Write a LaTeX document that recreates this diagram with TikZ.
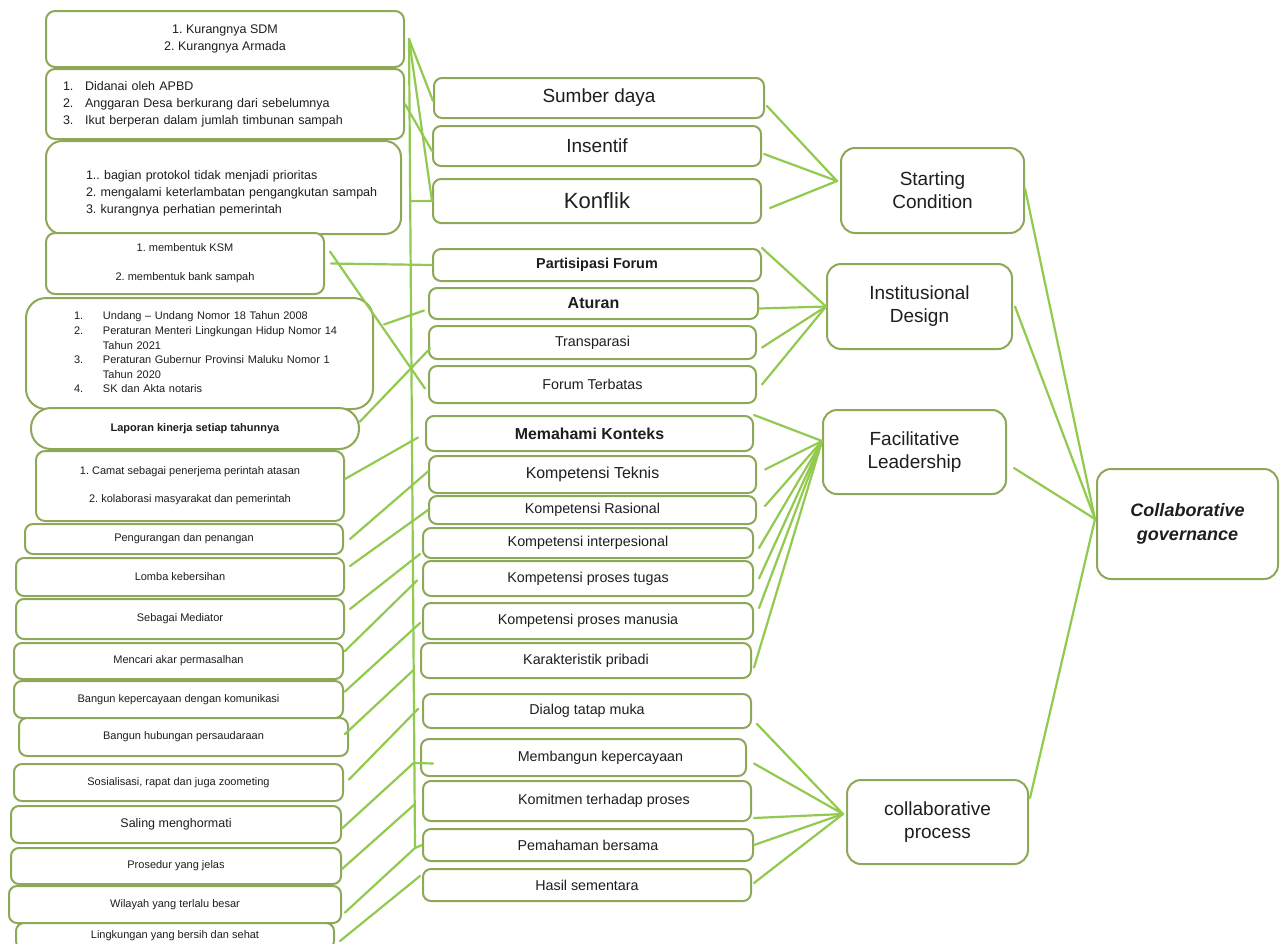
\documentclass[tikz,border=0pt]{standalone}
\usepackage{fontspec}
\setmainfont{Liberation Sans}
\usetikzlibrary{calc}
\frenchspacing
\definecolor{boxc}{RGB}{140,168,88}
\definecolor{linec}{RGB}{146,202,80}
\definecolor{txt}{RGB}{30,30,30}
\tikzset{
  bx/.style={draw=boxc, line width=2pt, fill=white, rounded corners=#1, anchor=north west,
             inner sep=0pt, align=center, text=txt},
  bx/.default=8pt,
  ln/.style={draw=linec, line width=2.2pt, line cap=round},
  fa/.style={font=\fontsize{11}{14.5}\selectfont},
  fb/.style={font=\fontsize{12.5}{17}\selectfont},
  fm/.style={font=\fontsize{14.3}{17}\selectfont},
  fmb/.style={font=\fontsize{14.4}{17}\selectfont\bfseries},
  fr/.style={font=\fontsize{19}{23}\selectfont},
}
\begin{document}
\begin{tikzpicture}[x=1pt,y=-1pt]
\clip (0,0) rectangle (1282,943);
\fill[white] (0,0) rectangle (1282,943);

% ---------- left column ----------
\node[bx=9pt, fb, minimum width=358pt, minimum height=56pt] (l1) at (45,10) {1. Kurangnya SDM\\2. Kurangnya Armada};
\node[bx=9pt, fb, minimum width=358pt, minimum height=70pt, align=left, inner xsep=17pt, text width=324pt] (l2) at (45,68)
  {\begin{tabular}{@{}l@{\hspace{11.6pt}}l@{}}1.&Didanai oleh APBD\\2.&Anggaran Desa berkurang dari sebelumnya\\3.&Ikut berperan dalam jumlah timbunan sampah\end{tabular}};
\node[bx=16pt, fb, minimum width=355pt, minimum height=93pt, align=left, inner xsep=20pt, text width=315pt] (l3) at (45,140)
  {\begin{tabular}{@{\hspace{20pt}}l@{}}\\[-6pt]1.. bagian protokol tidak menjadi prioritas\\2. mengalami keterlambatan pengangkutan sampah\\3. kurangnya perhatian pemerintah\end{tabular}};
\node[bx=9pt, fa, minimum width=278pt, minimum height=61pt] (l4) at (45,232) {1. membentuk KSM\\[14.5pt]2. membentuk bank sampah};
\node[bx=20pt, font=\fontsize{11}{14.6}\selectfont, minimum width=347pt, minimum height=111pt, align=left, inner xsep=48pt, text width=251pt] (l5) at (25,297)
  {\begin{tabular}{@{}l@{\hspace{19.8pt}}l@{}}1.&Undang -- Undang Nomor 18 Tahun 2008\\2.&Peraturan Menteri Lingkungan Hidup Nomor 14\\&Tahun 2021\\3.&Peraturan Gubernur Provinsi Maluku Nomor 1\\&Tahun 2020\\4.&SK dan Akta notaris\end{tabular}};
\node[bx=20pt, font=\fontsize{11}{14}\selectfont\bfseries, minimum width=328pt, minimum height=41pt] (l6) at (30,407) {Laporan kinerja setiap tahunnya};
\node[bx=9pt, fa, minimum width=308pt, minimum height=70pt] (l7) at (35,450) {1. Camat sebagai penerjema perintah atasan\\[13.5pt]2. kolaborasi masyarakat dan pemerintah};
\node[bx=8pt, fa, minimum width=318pt, minimum height=30pt] (l8) at (24,523) {Pengurangan dan penangan};
\node[bx=8pt, fa, minimum width=328pt, minimum height=38pt] (l9) at (15,557) {Lomba kebersihan};
\node[bx=8pt, fa, minimum width=328pt, minimum height=40pt] (l10) at (15,598) {Sebagai Mediator};
\node[bx=8pt, fa, minimum width=329pt, minimum height=36pt] (l11) at (13,642) {Mencari akar permasalhan};
\node[bx=8pt, fa, minimum width=329pt, minimum height=37pt] (l12) at (13,680) {Bangun kepercayaan dengan komunikasi};
\node[bx=8pt, fa, minimum width=329pt, minimum height=38pt] (l13) at (18,717) {Bangun hubungan persaudaraan};
\node[bx=8pt, fa, minimum width=329pt, minimum height=37pt] (l14) at (13,763) {Sosialisasi, rapat dan juga zoometing};
\node[bx=8pt, fb, minimum width=330pt, minimum height=37pt] (l15) at (10,805) {Saling menghormati};
\node[bx=8pt, fa, minimum width=330pt, minimum height=36pt] (l16) at (10,847) {Prosedur yang jelas};
\node[bx=8pt, fa, minimum width=332pt, minimum height=37pt] (l17) at (8,885) {Wilayah yang terlalu besar};
\node[bx=8pt, fa, minimum width=318pt, minimum height=26pt] (l18) at (15,922) {Lingkungan yang bersih dan sehat};

% ---------- middle column ----------
\node[bx, fr, minimum width=330pt, minimum height=40pt] (m1) at (433,77) {Sumber daya};
\node[bx, fr, minimum width=328pt, minimum height=40pt] (m2) at (432,125) {Insentif};
\node[bx, font=\fontsize{22}{26}\selectfont, minimum width=328pt, minimum height=44pt] (m3) at (432,178) {Konflik};
\node[bx, fmb, minimum width=328pt, minimum height=32pt] (m4) at (432,248) {Partisipasi Forum};
\node[bx, font=\fontsize{16}{19}\selectfont\bfseries, minimum width=329pt, minimum height=31pt] (m5) at (428,287) {Aturan};
\node[bx, fm, minimum width=327pt, minimum height=33pt] (m6) at (428,325) {Transparasi};
\node[bx, fm, minimum width=327pt, minimum height=37pt] (m7) at (428,365) {Forum Terbatas};
\node[bx, font=\fontsize{15.9}{19}\selectfont\bfseries, minimum width=327pt, minimum height=35pt] (m8) at (425,415) {Memahami Konteks};
\node[bx, font=\fontsize{15.9}{19}\selectfont, minimum width=327pt, minimum height=37pt] (m9) at (428,455) {Kompetensi Teknis};
\node[bx, fm, minimum width=327pt, minimum height=28pt] (m10) at (428,495) {Kompetensi Rasional};
\node[bx, fm, minimum width=330pt, minimum height=30pt] (m11) at (422,527) {Kompetensi interpesional};
\node[bx, fm, minimum width=330pt, minimum height=35pt] (m12) at (422,560) {Kompetensi proses tugas};
\node[bx, fm, minimum width=330pt, minimum height=36pt] (m13) at (422,602) {Kompetensi proses manusia};
\node[bx, fm, minimum width=330pt, minimum height=35pt] (m14) at (420,642) {Karakteristik pribadi};
\node[bx, fm, minimum width=328pt, minimum height=34pt] (m15) at (422,693) {Dialog tatap muka};
\node[bx, fm, minimum width=325pt, minimum height=37pt] (m16) at (420,738) {\hspace*{34pt}Membangun kepercayaan};
\node[bx, fm, minimum width=328pt, minimum height=40pt] (m17) at (422,780) {\hspace*{34pt}Komitmen terhadap proses};
\node[bx, fm, minimum width=330pt, minimum height=32pt] (m18) at (422,828) {Pemahaman bersama};
\node[bx, fm, minimum width=328pt, minimum height=32pt] (m19) at (422,868) {Hasil sementara};

% ---------- right columns ----------
\node[bx=14pt, fr, minimum width=183pt, minimum height=85pt] (sc) at (840,147) {Starting\\Condition};
\node[bx=14pt, fr, minimum width=185pt, minimum height=85pt] (id) at (826,263) {Institusional\\Design};
\node[bx=14pt, fr, minimum width=183pt, minimum height=84pt] (fl) at (822,409) {Facilitative\\Leadership};
\node[bx=14pt, font=\fontsize{18}{24}\selectfont\bfseries\itshape, minimum width=181pt, minimum height=110pt] (cg) at (1096,468) {Collaborative\\governance};
\node[bx=14pt, fr, minimum width=181pt, minimum height=84pt] (cp) at (846,779) {collaborative\\process};

% ---------- left-to-middle connectors ----------
\coordinate (vtop) at ([xshift=4pt]l1.east);
\coordinate (vbot) at (415,848);
\coordinate (vj) at (413.6,763);
\draw[ln] (vtop) -- (vbot);
\draw[ln] (vtop) -- ([yshift=-3pt]m1.west);
\draw[ln] (vtop) -- (m3.west);
\draw[ln] (l2.east) -- ([yshift=-5pt]m2.west);
\draw[ln] ($(vtop)!(m3.west)!(vbot)$) -- (m3.west);
\draw[ln] ([xshift=6pt]l4.east) -- (m4.west);
\draw[ln] ([xshift=5pt,yshift=12pt]l4.east) -- ([xshift=-3pt,yshift=-4pt]m7.west);
\draw[ln] ([xshift=10pt,yshift=29pt]l5.east) -- ([xshift=-4pt,yshift=-7pt]m5.west);
\draw[ln] ([yshift=7pt]l6.east) -- ([xshift=2pt,yshift=-6pt]m6.west);
\draw[ln] ([yshift=7pt]l7.east) -- ([xshift=-7pt,yshift=-4pt]m8.west);
\draw[ln] ([xshift=6pt]l8.east) -- ([yshift=3pt]m9.west);
\draw[ln] ([xshift=5pt,yshift=11pt]l9.east) -- (m10.west);
\draw[ln] ([xshift=5pt,yshift=10pt]l10.east) -- ([xshift=-2pt,yshift=-11pt]m11.west);
\draw[ln] ([xshift=1pt,yshift=10pt]l11.east) -- ([xshift=-5pt,yshift=-2pt]m12.west);
\draw[ln] ([xshift=1pt,yshift=8pt]l12.east) -- ([xshift=-2pt,yshift=-2pt]m13.west);
\draw[ln] ([xshift=-4pt,yshift=3pt]l13.east) -- ([xshift=-7pt,yshift=-10pt]m14.west);
\draw[ln] ([xshift=5pt,yshift=3pt]l14.east) -- ([xshift=-4pt,yshift=2pt]m15.west);
\draw[ln] ([yshift=-4pt]l15.east) -- (vj);
\draw[ln] (vj) -- ([xshift=13pt,yshift=-6pt]m16.west);
\draw[ln] ([yshift=-3pt]l16.east) -- ([xshift=-7pt,yshift=-3pt]m17.west);
\draw[ln] ([xshift=3pt,yshift=-8pt]l17.east) -- (vbot);
\draw[ln] (vbot) -- (m18.west);
\draw[ln] ([xshift=5pt,yshift=-5pt]l18.east) -- ([xshift=-2pt,yshift=9pt]m19.west);

% ---------- middle-to-right connectors ----------
\coordinate (scin) at ([xshift=-3pt,yshift=9.5pt]sc.west);
\draw[ln] ([xshift=2pt,yshift=-8pt]m1.east) -- (scin);
\draw[ln] ([xshift=2pt,yshift=-8pt]m2.east) -- (scin);
\draw[ln] ([xshift=8pt,yshift=-7pt]m3.east) -- (scin);
\draw[ln] (m4.north east) -- (id.west);
\draw[ln] ([yshift=-5pt]m5.east) -- (id.west);
\draw[ln] ([xshift=5pt,yshift=-5pt]m6.east) -- (id.west);
\draw[ln] ([xshift=5pt]m7.east) -- (id.west);
\coordinate (flin) at ([yshift=11pt]fl.west);
\draw[ln] (m8.north east) -- (flin);
\draw[ln] ([xshift=8pt,yshift=5pt]m9.east) -- (flin);
\draw[ln] ([xshift=8pt,yshift=4pt]m10.east) -- (flin);
\draw[ln] ([xshift=5pt,yshift=-5pt]m11.east) -- (flin);
\draw[ln] ([xshift=5pt]m12.east) -- (flin);
\draw[ln] ([xshift=5pt,yshift=13pt]m13.east) -- (flin);
\draw[ln] ([xshift=2pt,yshift=-7pt]m14.east) -- (flin);
\coordinate (cpin) at ([xshift=-3pt,yshift=8pt]cp.west);
\draw[ln] ([xshift=5pt,yshift=-13pt]m15.east) -- (cpin);
\draw[ln] ([xshift=7pt,yshift=-6pt]m16.east) -- (cpin);
\draw[ln] ([xshift=2pt,yshift=-17pt]m17.east) -- (cpin);
\draw[ln] (m18.east) -- (cpin);
\draw[ln] ([xshift=2pt,yshift=2pt]m19.east) -- (cpin);
\coordinate (cgin) at ([xshift=-1pt,yshift=5pt]cg.west);
\draw[ln] ([yshift=2pt]sc.east) -- (cgin);
\draw[ln] ([xshift=2pt]id.east) -- (cgin);
\draw[ln] ([xshift=7pt,yshift=-16pt]fl.east) -- (cgin);
\draw[ln] ([xshift=1pt,yshift=24pt]cp.east) -- (cgin);
\end{tikzpicture}
\end{document}
